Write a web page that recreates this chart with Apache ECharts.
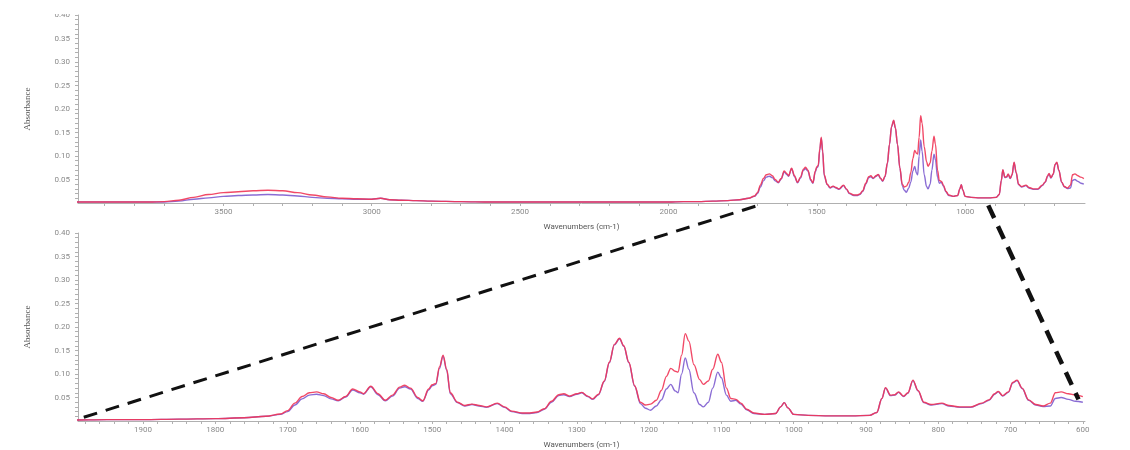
<!DOCTYPE html>
<html>
<head>
<meta charset="utf-8">
<script src="https://cdn.jsdelivr.net/npm/echarts@6/dist/echarts.min.js"></script>
<style>
html,body{margin:0;padding:0;background:#fff;}
#c{width:1130px;height:450px;}
</style>
</head>
<body>
<div id="c"></div>
<script>
// Wavenumbers (cm-1), descending
const wavenumbers = [4000,3900,3800,3750,3700,3650,3600,3550,3500,3450,3400,3350,3300,3250,3200,3150,3100,3050,3000,2970,2940,2900,2850,2800,2700,2600,2500,2400,2300,2200,2100,2000,1950,1900,1850,1800,1760,1730,1710,1700,1690,1680,1670,1660,1650,1640,1630,1620,1610,1600,1595,1585,1575,1565,1555,1545,1538,1530,1520,1513,1505,1500,1495,1490,1485,1480,1475,1465,1455,1445,1435,1425,1410,1400,1390,1375,1365,1355,1345,1335,1325,1318,1310,1300,1293,1285,1278,1270,1262,1255,1248,1241,1235,1228,1220,1212,1205,1198,1190,1183,1176,1170,1164,1160,1155,1150,1145,1138,1130,1125,1118,1112,1105,1100,1093,1087,1080,1073,1065,1055,1040,1025,1018,1013,1008,1000,980,950,920,895,885,878,873,866,860,855,848,842,835,828,820,810,795,785,770,755,740,730,722,717,711,703,697,691,684,675,665,655,645,638,630,620,610,600];
// Sample 1 (red)
const absorbanceRed = [0.002,0.002,0.002,0.002,0.003,0.006,0.012,0.018,0.022,0.024,0.026,0.027,0.026,0.022,0.017,0.013,0.010,0.009,0.008,0.010,0.007,0.006,0.005,0.004,0.003,0.002,0.002,0.002,0.002,0.002,0.002,0.002,0.003,0.003,0.004,0.005,0.007,0.010,0.015,0.022,0.038,0.052,0.060,0.062,0.058,0.050,0.044,0.052,0.068,0.062,0.058,0.074,0.058,0.044,0.055,0.072,0.076,0.070,0.050,0.043,0.068,0.077,0.080,0.115,0.140,0.110,0.060,0.040,0.033,0.036,0.033,0.030,0.038,0.030,0.021,0.017,0.017,0.019,0.026,0.042,0.056,0.058,0.053,0.058,0.061,0.053,0.047,0.057,0.085,0.125,0.163,0.176,0.160,0.125,0.075,0.040,0.034,0.036,0.044,0.065,0.095,0.112,0.106,0.104,0.140,0.186,0.170,0.120,0.088,0.078,0.085,0.110,0.142,0.125,0.070,0.048,0.046,0.038,0.025,0.017,0.014,0.016,0.030,0.039,0.028,0.014,0.012,0.011,0.011,0.012,0.018,0.048,0.071,0.055,0.056,0.062,0.053,0.060,0.087,0.065,0.040,0.035,0.038,0.033,0.030,0.030,0.038,0.045,0.058,0.063,0.054,0.062,0.082,0.087,0.070,0.045,0.035,0.032,0.038,0.060,0.062,0.058,0.055,0.052];
// Sample 2 (purple)
const absorbancePurple = [0.002,0.002,0.002,0.002,0.002,0.004,0.008,0.011,0.014,0.016,0.017,0.018,0.017,0.015,0.012,0.010,0.009,0.008,0.008,0.010,0.007,0.006,0.005,0.004,0.003,0.002,0.002,0.002,0.002,0.002,0.002,0.002,0.003,0.003,0.004,0.005,0.007,0.010,0.014,0.020,0.034,0.047,0.055,0.057,0.054,0.047,0.043,0.051,0.066,0.060,0.057,0.073,0.056,0.043,0.053,0.070,0.073,0.068,0.048,0.042,0.066,0.075,0.078,0.112,0.138,0.108,0.058,0.039,0.032,0.035,0.032,0.029,0.037,0.029,0.020,0.016,0.016,0.018,0.025,0.040,0.054,0.056,0.052,0.057,0.060,0.052,0.046,0.056,0.084,0.124,0.162,0.175,0.159,0.124,0.074,0.037,0.027,0.023,0.032,0.045,0.068,0.078,0.064,0.060,0.100,0.134,0.110,0.060,0.035,0.030,0.040,0.070,0.104,0.092,0.055,0.042,0.044,0.036,0.024,0.016,0.014,0.016,0.030,0.039,0.028,0.014,0.012,0.011,0.011,0.012,0.018,0.048,0.070,0.054,0.055,0.061,0.052,0.059,0.086,0.064,0.039,0.034,0.037,0.032,0.029,0.029,0.037,0.044,0.057,0.062,0.053,0.061,0.081,0.086,0.069,0.044,0.034,0.031,0.032,0.048,0.050,0.046,0.042,0.040];

const topTickLabels = [3500,3000,2500,2000,1500,1000];
const topTickMarks = [3900,3800,3700,3600,3500,3400,3300,3200,3100,3000,2900,2800,2700,2600,2500,2400,2300,2200,2100,2000,1900,1800,1700,1600,1500,1400,1300,1200,1100,1000,900,800,700];
const bottomTickLabels = [1900,1800,1700,1600,1500,1400,1300,1200,1100,1000,900,800,700,600];
const bottomTickMarks = [1980,1960,1940,1920,1900,1880,1860,1840,1820,1800,1780,1760,1740,1720,1700,1680,1660,1640,1620,1600,1580,1560,1540,1520,1500,1480,1460,1440,1420,1400,1380,1360,1340,1320,1300,1280,1260,1240,1220,1200,1180,1160,1140,1120,1100,1080,1060,1040,1020,1000,980,960,940,920,900,880,860,840,820,800,780,760,740,720,700,680,660,640,620,600];
const yTickLabels = [0.05,0.10,0.15,0.20,0.25,0.30,0.35,0.40];
const yTickMarks = [0.01,0.02,0.03,0.04,0.05,0.06,0.07,0.08,0.09,0.10,0.11,0.12,0.13,0.14,0.15,0.16,0.17,0.18,0.19,0.20,0.21,0.22,0.23,0.24,0.25,0.26,0.27,0.28,0.29,0.30,0.31,0.32,0.33,0.34,0.35,0.36,0.37,0.38,0.39,0.40];
// zoom connectors: [topWavenumber, topAbs] -> [bottomWavenumber, bottomAbs]
const zoomLinks = [
  {from:[1707,-0.007], to:[1982,0.008], width:3},
  {from:[922,-0.005], to:[606,0.046], width:4.5}
];

const redPts = wavenumbers.map((w,i)=>[w, absorbanceRed[i]]);
const purplePts = wavenumbers.map((w,i)=>[w, absorbancePurple[i]]);

const FONT = 'Roboto';
const lblColor = '#8a8a8a';
const axisColor = '#b0b0b0';

function yAxis(gi){
  return {
    type:'value', gridIndex:gi, min:0, max:0.4,
    name:'Absorbance', nameLocation:'middle', nameGap:46, nameRotate:90,
    nameTextStyle:{color:'#555', fontSize:9, fontFamily:'Liberation Sans Narrow'},
    axisLine:{show:true, lineStyle:{color:axisColor, width:1}},
    axisTick:{show:true, length:3, lineStyle:{color:axisColor}, customValues:yTickMarks},
    minorTick:{show:false},
    axisLabel:{color:lblColor, fontSize:8, fontFamily:FONT, margin:8, customValues:yTickLabels, formatter:v=>v.toFixed(2)},
    splitLine:{show:false}
  };
}
function xAxis(gi, min, max, labels, marks){
  return {
    type:'value', gridIndex:gi, inverse:true, min:min, max:max,
    name:'Wavenumbers (cm-1)', nameLocation:'middle', nameGap:20,
    nameTextStyle:{color:'#555', fontSize:8, fontFamily:FONT},
    axisLine:{show:true, onZero:false, lineStyle:{color:axisColor, width:1}},
    axisTick:{show:true, length:3, lineStyle:{color:axisColor}, customValues:marks},
    axisLabel:{color:lblColor, fontSize:8, fontFamily:FONT, margin:5, customValues:labels, formatter:v=>String(v)},
    splitLine:{show:false}
  };
}
function series(gi, pts, color, z){
  return {
    type:'line', xAxisIndex:gi, yAxisIndex:gi, data:pts, showSymbol:false, symbol:'none',
    smooth:0.35, smoothMonotone:'x', z:z,
    lineStyle:{color:color, width:1.4, opacity:0.9}, animation:false
  };
}

const chart = echarts.init(document.getElementById('c'), null, {renderer:'canvas'});
chart.setOption({
  animation:false,
  backgroundColor:'#fff',
  grid:[
    {left:78, right:45, top:15, height:188},
    {left:78, right:45, top:233, height:189}
  ],
  xAxis:[
    xAxis(0, 596, 3990, topTickLabels, topTickMarks),
    xAxis(1, 597, 1990, bottomTickLabels, bottomTickMarks)
  ],
  yAxis:[yAxis(0), yAxis(1)],
  series:[
    series(0, purplePts, '#7d5ccf', 2),
    series(0, redPts, '#ef3556', 3),
    series(1, purplePts, '#7d5ccf', 2),
    series(1, redPts, '#ef3556', 3)
  ]
});

const lines = zoomLinks.map(l=>{
  const p1 = chart.convertToPixel({gridIndex:0}, l.from);
  const p2 = chart.convertToPixel({gridIndex:1}, l.to);
  return {type:'line', z:100, shape:{x1:p1[0], y1:p1[1], x2:p2[0], y2:p2[1]},
    style:{stroke:'#111', lineWidth:l.width, lineDash:[14,9]}};
});
// the top "0.40" labels are cropped in the source screenshot panels
const crops = [0,1].map(gi=>{
  const p = chart.convertToPixel({gridIndex:gi}, [3990, 0.4]);
  return {type:'rect', z:90, shape:{x:30, y:p[1]-12, width:p[0]-32, height:11}, style:{fill:'#fff'}};
});
chart.setOption({graphic:lines.concat(crops)});
</script>
</body>
</html>
